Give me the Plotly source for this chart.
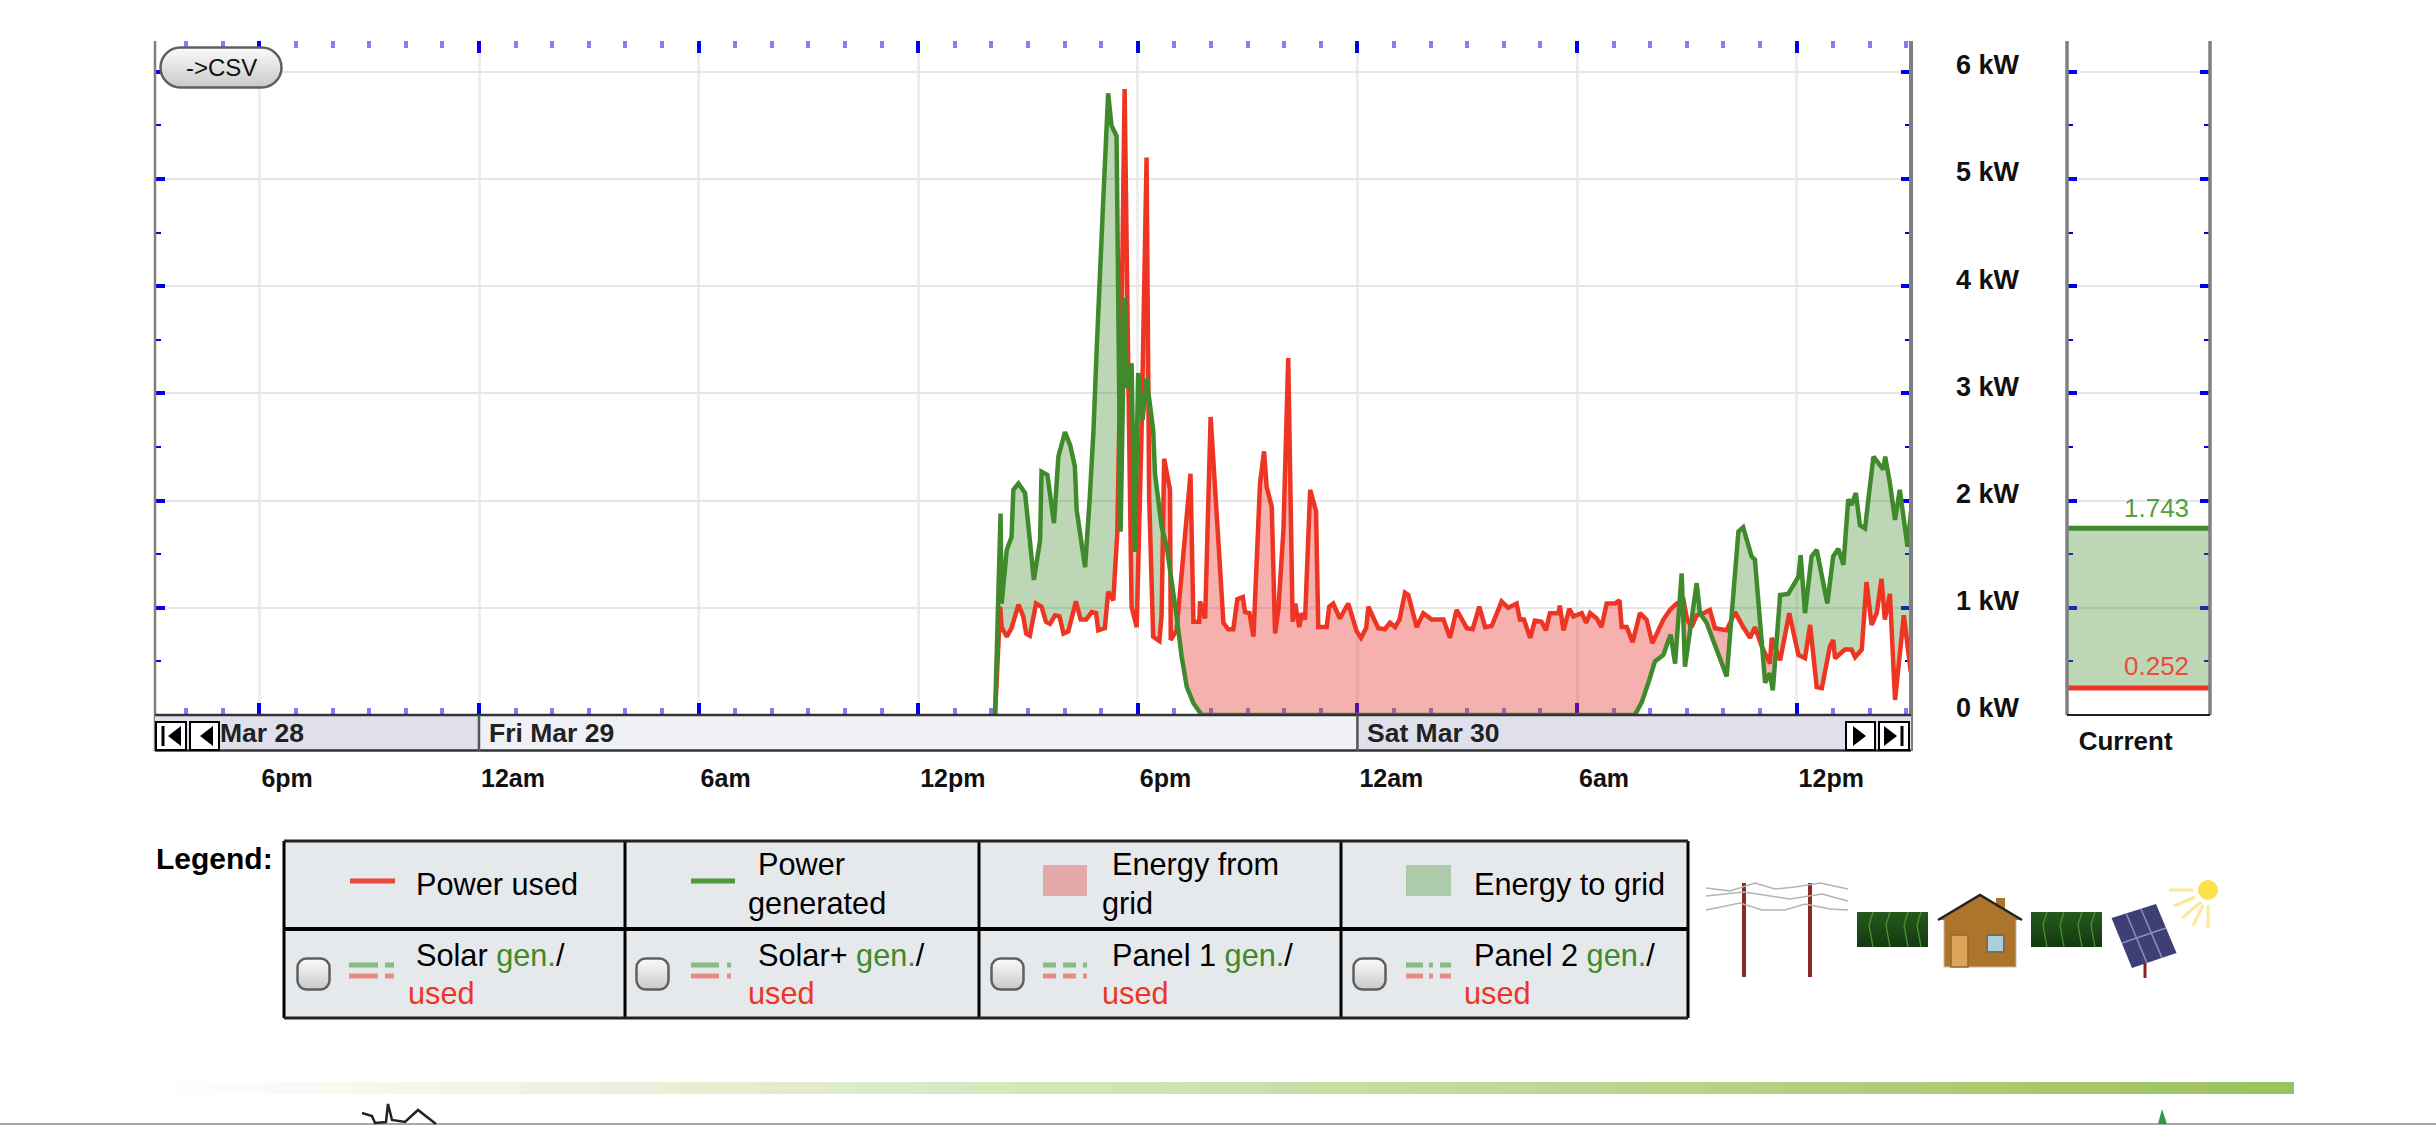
import base64
import plotly.graph_objects as go
import numpy as np

W, H = 2436, 1125

# ---- data (hours since 12am Fri Mar 29, kW) ----
used_hours = [14.10,14.24,14.28,14.42,14.55,14.74,14.87,14.95,15.05,15.22,15.37,15.49,15.60,15.74,15.86,15.97,16.10,16.31,16.44,16.59,16.74,16.86,16.92,17.10,17.19,17.33,17.44,17.58,17.64,17.74,17.83,17.97,18.10,18.24,18.31,18.42,18.59,18.65,18.72,18.88,18.90,19.06,19.44,19.52,19.68,19.70,19.84,19.99,20.34,20.47,20.61,20.72,20.87,20.93,21.05,21.16,21.34,21.45,21.52,21.66,21.75,21.84,21.98,22.11,22.23,22.30,22.41,22.48,22.57,22.71,22.87,22.93,23.16,23.23,23.34,23.52,23.75,23.98,24.10,24.24,24.30,24.57,24.75,24.89,25.03,25.15,25.30,25.39,25.62,25.80,26.03,26.35,26.53,26.71,26.99,27.15,27.33,27.49,27.67,27.94,28.12,28.35,28.44,28.55,28.72,28.85,29.03,29.15,29.26,29.49,29.53,29.63,29.79,29.90,30.13,30.25,30.36,30.54,30.67,30.81,31.04,31.16,31.22,31.36,31.52,31.72,31.90,32.06,32.22,32.36,32.54,32.72,32.91,33.01,33.13,33.27,33.45,33.63,33.77,34.09,34.32,34.54,34.73,34.86,35.05,35.27,35.32,35.55,35.80,36.05,36.23,36.37,36.55,36.69,36.91,37.00,37.05,37.32,37.50,37.60,37.78,37.91,38.05,38.19,38.32,38.41,38.55,38.69,38.93,39.12]
used_kw = [0,1.01,0.82,0.73,0.81,1.03,0.92,0.76,0.74,1.04,1.01,0.87,0.85,0.93,0.92,0.76,0.78,1.06,0.89,0.89,0.96,0.95,0.79,0.81,1.15,1.07,1.7,4.3,5.84,3.2,1.01,0.82,2.6,5.2,2.04,0.73,0.69,0.93,2.39,2.10,0.70,0.79,2.25,0.87,0.87,1.06,0.90,2.78,0.86,0.80,0.80,1.08,1.10,0.96,0.95,0.73,2.16,2.46,2.13,1.94,0.76,0.98,1.73,3.33,0.87,1.04,0.82,0.95,0.89,2.10,1.90,0.82,0.82,1.01,1.04,0.90,1.04,0.78,0.72,0.81,1.01,0.81,0.80,0.86,0.82,0.89,1.14,1.12,0.82,0.95,0.89,0.89,0.72,0.98,0.81,0.80,1.01,0.82,0.83,1.06,1.00,1.04,0.89,0.89,0.72,0.88,0.87,0.79,0.95,0.95,1.02,0.79,0.99,0.92,0.95,0.86,0.95,0.90,0.82,1.04,1.04,1.07,0.82,0.82,0.68,0.95,0.89,0.67,0.79,0.89,0.98,1.04,1.07,0.89,0.82,0.93,0.95,0.98,0.81,0.79,0.96,0.82,0.72,0.82,0.64,0.48,0.72,0.51,0.95,0.56,0.53,0.84,0.26,0.25,0.64,0.70,0.53,0.61,0.61,0.54,0.61,1.24,0.84,0.95,1.27,0.89,1.13,0.14,0.93,0.40]

gen_hours = [14.10,14.25,14.28,14.42,14.55,14.60,14.74,14.92,15.16,15.33,15.37,15.53,15.71,15.83,16.01,16.15,16.28,16.33,16.56,16.69,16.79,16.88,17.04,17.19,17.28,17.42,17.53,17.64,17.70,17.83,17.92,18.01,18.13,18.24,18.42,18.47,18.65,18.79,19.06,19.20,19.34,19.52,19.75,31.58,31.77,31.95,32.13,32.36,32.50,32.56,32.68,32.86,32.95,33.27,33.36,33.54,34.09,34.41,34.54,34.77,34.86,35.14,35.27,35.35,35.55,35.77,36.05,36.11,36.23,36.41,36.55,36.84,37.00,37.14,37.28,37.41,37.50,37.62,37.73,37.87,37.96,38.10,38.37,38.42,38.55,38.69,38.82,39.03,39.12]
gen_kw = [0,1.88,1.04,1.54,1.66,2.10,2.16,2.07,1.26,1.63,2.27,2.24,1.79,2.41,2.64,2.52,2.32,1.91,1.38,2.04,2.66,3.44,4.68,5.80,5.50,5.40,1.71,3.89,3.05,3.28,1.52,3.19,2.75,3.14,2.66,2.25,1.76,1.57,0.92,0.54,0.26,0.11,0,0,0.12,0.30,0.50,0.56,0.70,0.75,0.48,1.32,0.45,1.23,0.95,0.86,0.36,1.71,1.75,1.48,1.45,0.30,0.39,0.23,1.12,1.13,1.29,1.49,0.95,1.48,1.54,1.04,1.48,1.55,1.40,2.01,1.96,2.07,1.77,1.74,2.01,2.41,2.29,2.41,2.16,1.82,2.10,1.57,1.88]

current_used = 0.252
current_gen = 1.743

x_major_hours = [-6, 0, 6, 12, 18, 24, 30, 36]
x_major_labels = ["6pm", "12am", "6am", "12pm", "6pm", "12am", "6am", "12pm"]
y_ticks = [0, 1, 2, 3, 4, 5, 6]
y_labels = ["0 kW", "1 kW", "2 kW", "3 kW", "4 kW", "5 kW", "6 kW"]
y_minor = [0.5, 1.5, 2.5, 3.5, 4.5, 5.5]
x_minor = [h for h in range(-8, 40) if h % 6 != 0]
day_names = ["Mar 28", "Fri Mar 29", "Sat Mar 30"]

RED = "#ee3524"
GREEN = "#3f8a2a"
FONT = "Liberation Sans"

# ---- layout helpers (page pixels to paper) ----
def px(v): return v / W
def py(v): return 1 - v / H

PLOT_L, PLOT_R, PLOT_T, PLOT_B = 155, 1911, 41, 715
CUR_L, CUR_R = 2067, 2210
PX_PER_HOUR, PX_PER_KW = 36.6, 107.2
x_range = [(PLOT_L - 479) / PX_PER_HOUR, (PLOT_R - 479) / PX_PER_HOUR]
y_range = [0, (PLOT_B - PLOT_T) / PX_PER_KW]

fig = go.Figure()

# energy shading between the two power curves
t = np.arange(used_hours[0], used_hours[-1] + 1e-6, 0.01)
u = np.interp(t, used_hours, used_kw)
g = np.interp(t, gen_hours, gen_kw)
none = dict(width=0, color="rgba(0,0,0,0)")
fig.add_trace(go.Scatter(x=t, y=u, mode="lines", line=none, hoverinfo="skip", showlegend=False))
fig.add_trace(go.Scatter(x=t, y=np.maximum(u, g), mode="lines", line=none, fill="tonexty",
                         fillcolor="rgba(62,138,41,0.34)", hoverinfo="skip", showlegend=False))
fig.add_trace(go.Scatter(x=t, y=g, mode="lines", line=none, hoverinfo="skip", showlegend=False))
fig.add_trace(go.Scatter(x=t, y=np.maximum(u, g), mode="lines", line=none, fill="tonexty",
                         fillcolor="rgba(230,40,35,0.37)", hoverinfo="skip", showlegend=False))
fig.add_trace(go.Scatter(x=used_hours, y=used_kw, mode="lines", line=dict(color=RED, width=4.5, simplify=False),
                         name="Power used", showlegend=False))
fig.add_trace(go.Scatter(x=gen_hours + [39.13], y=gen_kw + [gen_kw[-1]], mode="lines",
                         line=dict(color=GREEN, width=4.5, simplify=False),
                         name="Power generated", showlegend=False))

# current panel
fig.add_trace(go.Scatter(x=[0, 1], y=[current_used, current_used], mode="lines", xaxis="x2", yaxis="y2",
                         line=dict(color=RED, width=5), showlegend=False))
fig.add_trace(go.Scatter(x=[0, 1], y=[current_gen, current_gen], mode="lines", xaxis="x2", yaxis="y2",
                         fill="tonexty", fillcolor="rgba(62,138,41,0.34)",
                         line=dict(color=GREEN, width=5), showlegend=False))

BLUE = "#0000ee"
BLUE_SOFT = "rgba(0,0,240,0.5)"
x_font = dict(family=FONT, size=25, color="#111111", weight="bold")
y_font = dict(family=FONT, size=27, color="#111111", weight="bold")
cur_font = dict(family=FONT, size=26, color="#111111", weight="bold")
xaxis = dict(domain=[px(PLOT_L), px(PLOT_R)], range=x_range, anchor="y", layer="below traces",
             tickmode="array", tickvals=x_major_hours, ticktext=x_major_labels,
             ticks="inside", ticklen=12, tickwidth=4, tickcolor=BLUE, mirror="ticks",
             showline=False, zeroline=False, showgrid=True, gridcolor="#eeeeee", gridwidth=3,
             ticklabelposition="outside right", ticklabelstandoff=46, tickfont=x_font,
             minor=dict(tickmode="array", tickvals=x_minor, ticks="inside", ticklen=7,
                        tickwidth=4, tickcolor=BLUE_SOFT, showgrid=False))
yaxis = dict(domain=[py(PLOT_B), py(PLOT_T)], range=y_range, anchor="x", side="right", layer="below traces",
             tickmode="array", tickvals=y_ticks, ticktext=y_labels,
             ticks="inside", ticklen=10, tickwidth=4, tickcolor=BLUE, mirror="ticks",
             showline=False, zeroline=False, showgrid=True, gridcolor="#e6e6e6", gridwidth=2,
             ticklabelstandoff=44, ticklabelshift=-7, tickfont=y_font,
             minor=dict(tickmode="array", tickvals=y_minor, ticks="inside", ticklen=6,
                        tickwidth=2, tickcolor=BLUE, showgrid=False))
xaxis2 = dict(domain=[px(CUR_L), px(CUR_R)], range=[0, 1], anchor="y2", showgrid=False, zeroline=False,
              showline=False, ticks="", tickmode="array", tickvals=[0.41], ticktext=["Current"],
              ticklabelstandoff=8, tickfont=cur_font)
yaxis2 = dict(domain=[py(PLOT_B), py(PLOT_T)], range=y_range, anchor="x2", layer="below traces",
              tickmode="array", tickvals=y_ticks, ticktext=[""] * 7,
              ticks="inside", ticklen=10, tickwidth=4, tickcolor=BLUE, mirror="ticks",
              showline=False, zeroline=False, showgrid=True, gridcolor="#e6e6e6", gridwidth=2,
              minor=dict(tickmode="array", tickvals=y_minor, ticks="inside", ticklen=6,
                         tickwidth=2, tickcolor=BLUE, showgrid=False))

shapes, annotations, images = [], [], []

def line(x0, y0, x1, y1, color, width, layer="above"):
    shapes.append(dict(type="line", xref="paper", yref="paper", x0=px(x0), y0=py(y0), x1=px(x1), y1=py(y1),
                       line=dict(color=color, width=width), layer=layer))

def rect(x0, y0, x1, y1, fill, color=None, width=0, layer="above"):
    shapes.append(dict(type="rect", xref="paper", yref="paper", x0=px(x0), y0=py(y0), x1=px(x1), y1=py(y1),
                       fillcolor=fill, line=dict(color=color or "rgba(0,0,0,0)", width=width), layer=layer))

def poly(points, fill=None, color=None, width=0, close=True, layer="above"):
    d = "M " + " L ".join(f"{px(a):.6f},{py(b):.6f}" for a, b in points) + (" Z" if close else "")
    shapes.append(dict(type="path", xref="paper", yref="paper", path=d,
                       fillcolor=fill or "rgba(0,0,0,0)",
                       line=dict(color=color or "rgba(0,0,0,0)", width=width), layer=layer))

def text(x, y, s, size=30.7, color="#000000", anchor="left", bold=False):
    annotations.append(dict(xref="paper", yref="paper", x=px(x), y=py(y), text=s, showarrow=False,
                            xanchor=anchor, yanchor="middle", borderpad=0,
                            font=dict(family=FONT, size=size, color=color, weight="bold" if bold else "normal")))

def svg_image(svg, x0, y0, x1, y1):
    src = "data:image/svg+xml;base64," + base64.b64encode(svg.encode()).decode()
    images.append(dict(source=src, xref="paper", yref="paper", x=px(x0), y=py(y0),
                       sizex=(x1 - x0) / W, sizey=(y1 - y0) / H, sizing="stretch",
                       xanchor="left", yanchor="top", layer="above"))

def button(x0, y0, x1, y1, r):
    w, h = x1 - x0, y1 - y0
    svg = (f'<svg xmlns="http://www.w3.org/2000/svg" width="{w}" height="{h}" viewBox="0 0 {w} {h}">'
           '<defs><linearGradient id="g" x1="0" y1="0" x2="0" y2="1"><stop offset="0" stop-color="#fbfbfb"/>'
           '<stop offset="1" stop-color="#c9c9c9"/></linearGradient></defs>'
           f'<rect x="1.5" y="1.5" width="{w-3}" height="{h-3}" rx="{r}" ry="{r}" fill="url(#g)" '
           'stroke="#5f5f5f" stroke-width="2.5"/></svg>')
    svg_image(svg, x0, y0, x1, y1)

# axis frames
line(PLOT_L, PLOT_T, PLOT_L, 751, "#7f7f7f", 2.5)
line(PLOT_R, PLOT_T, PLOT_R, 751, "#7f7f7f", 4)
line(CUR_L, PLOT_T, CUR_L, PLOT_B, "#808080", 3.5)
line(CUR_R, PLOT_T, CUR_R, PLOT_B, "#808080", 3.5)
line(CUR_L, PLOT_B, CUR_R, PLOT_B, "#222222", 2)

# date strip
DAY0 = 479
DAY1 = 479 + 24 * PX_PER_HOUR
rect(PLOT_L, PLOT_B, DAY0, 751, "#e0e0ec")
rect(DAY0, PLOT_B, DAY1, 751, "#f0f1f6")
rect(DAY1, PLOT_B, PLOT_R, 751, "#e0e0ec")
line(PLOT_L, PLOT_B, PLOT_R, PLOT_B, "#333333", 2.5)
line(PLOT_L, 750.5, PLOT_R, 750.5, "#333333", 2.5)
line(DAY0, PLOT_B, DAY0, 751, "#555555", 2.5)
line(DAY1, PLOT_B, DAY1, 751, "#555555", 2.5)
text(219, 733, day_names[0], 26.5, "#222222", bold=True)
text(488, 733, day_names[1], 26.5, "#222222", bold=True)
text(1366, 733, day_names[2], 26.5, "#222222", bold=True)

# navigation buttons
for x0, x1 in [(156, 186), (190, 219), (1846, 1875), (1879, 1909)]:
    rect(x0, 722, x1, 750, "#ffffff", "#000000", 2)
poly([(181, 726), (168, 736), (181, 746)], "#000000")
line(163, 726, 163, 746, "#000000", 3)
poly([(213, 726), (200, 736), (213, 746)], "#000000")
poly([(1853, 726), (1866, 736), (1853, 746)], "#000000")
poly([(1884, 726), (1897, 736), (1884, 746)], "#000000")
line(1902, 726, 1902, 746, "#000000", 3)

# current labels
annotations.append(dict(xref="x2", yref="y2", x=0.86, y=current_gen, text="1.743", showarrow=False,
                        xanchor="right", yanchor="bottom", yshift=4, borderpad=0,
                        font=dict(family=FONT, size=26, color="#53a043")))
annotations.append(dict(xref="x2", yref="y2", x=0.86, y=current_used, text="0.252", showarrow=False,
                        xanchor="right", yanchor="bottom", yshift=6, borderpad=0,
                        font=dict(family=FONT, size=26, color="#ee4a3a")))

# ->CSV button
button(159, 46, 283, 89, 20)
text(221, 68, "-&gt;CSV", 24, "#111111", anchor="center")

# legend table
text(155, 858, "Legend:", 30, bold=True)
LEG_X = [284, 625, 979, 1341, 1688]
LEG_Y = [841, 929, 1018]
rect(LEG_X[0], LEG_Y[0], LEG_X[-1], LEG_Y[-1], "#e6e9ec", layer="below")
for v in LEG_X:
    line(v, LEG_Y[0], v, LEG_Y[-1], "#000000", 3)
line(LEG_X[0], LEG_Y[0], LEG_X[-1], LEG_Y[0], "#222222", 3)
line(LEG_X[0], LEG_Y[1], LEG_X[-1], LEG_Y[1], "#000000", 4)
line(LEG_X[0], LEG_Y[2], LEG_X[-1], LEG_Y[2], "#222222", 3)

line(350, 881, 395, 881, "#e8483e", 5)
text(415, 884, "Power used")
line(691, 881, 735, 881, "#4f9a3f", 5)
text(757, 864, "Power")
text(747, 903, "generated")
rect(1043, 865, 1087, 896, "#e5a8a8")
text(1111, 864, "Energy from")
text(1101, 903, "grid")
rect(1406, 865, 1451, 896, "#adcbab")
text(1473, 884, "Energy to grid")

gen_span = '<span style="color:#3f8a2a">gen.</span>/'
LG, LR = "#88bb80", "#ea8a86"
def key(segs):
    for a, b in segs:
        line(a, 965, b, 965, LG, 5)
        line(a, 976, b, 976, LR, 5)
key([(349, 378), (385, 394)])
key([(691, 719), (727, 731)])
key([(1043, 1056), (1063, 1076), (1083, 1087)])
key([(1406, 1423), (1429, 1433), (1440, 1451)])
for x0 in (296, 635, 990, 1352):
    button(x0, 957, x0 + 35, 991, 9)
for lx, ux, name in [(415, 407, "Solar"), (757, 747, "Solar+"), (1111, 1101, "Panel 1"), (1473, 1463, "Panel 2")]:
    text(lx, 955, f"{name} {gen_span}")
    text(ux, 993, "used", color=RED)

# illustration: power poles
for v in (1744, 1810):
    line(v, 883, v, 977, "#8c2b24", 4)
WIRE = "#b4b4b4"
for pts in ([(1706, 888), (1730, 891), (1755, 883), (1775, 889), (1795, 887), (1820, 883), (1848, 889)],
            [(1706, 896), (1744, 892), (1790, 899), (1822, 894), (1848, 901)],
            [(1706, 910), (1740, 903), (1762, 910), (1785, 910), (1805, 904), (1830, 909), (1848, 910)]):
    poly(pts, color=WIRE, width=1.5, close=False)

# illustration: wires between grid, house and panel
for x0 in (1857, 2031):
    w = 71
    svg = (f'<svg xmlns="http://www.w3.org/2000/svg" width="{w}" height="35" viewBox="0 0 {w} 35">'
           '<defs><linearGradient id="g" x1="0" y1="0" x2="0" y2="1"><stop offset="0" stop-color="#265a1c"/>'
           '<stop offset="1" stop-color="#143810"/></linearGradient></defs>'
           f'<rect width="{w}" height="35" fill="url(#g)"/>'
           + "".join(f'<polyline points="{a+4},0 {a},13 {a+4},35" fill="none" stroke="#4a9a35" stroke-width="1.2"/>'
                     for a in (12, 29, 47, 60))
           + '</svg>')
    svg_image(svg, x0, 912, x0 + w, 947)

# illustration: house
rect(1944, 918, 2016, 967, "#ad742c", "#c8b9a0", 1)
rect(1996, 898, 2005, 912, "#ad742c")
poly([(1938, 920), (1980, 895), (2022, 920)], "#ad742c", "#222222", 2.5, close=False)
rect(1951, 935, 1968, 967, "#dda35a", "#96672c", 1.5)
rect(1987, 935, 2004, 952, "#aacde0", "#8a6a3a", 2)

# illustration: solar panel and sun
line(2145, 960, 2145, 978, "#8b2020", 3)
poly([(2111.5, 918), (2156, 904), (2176.5, 953), (2132, 968)], "#3f3f78")
for (a, b) in [((2126, 913), (2147, 963)), ((2141, 909), (2162, 958)), ((2122, 943), (2166, 928))]:
    line(a[0], a[1], b[0], b[1], "#8f8fb5", 1.5)
shapes.append(dict(type="circle", xref="paper", yref="paper", x0=px(2198), x1=px(2218), y0=py(900), y1=py(880),
                   fillcolor="#fbdf4b", line=dict(width=0)))
for a, b, c, d in [(2169, 890, 2193, 890), (2174, 906, 2195, 897), (2182, 918, 2201, 902),
                   (2193, 926, 2203, 905), (2208, 905, 2208, 928)]:
    line(a, b, c, d, "#fbe89a", 3)

# footer rule and page remnants
svg_image('<svg xmlns="http://www.w3.org/2000/svg" width="2144" height="12" viewBox="0 0 2144 12" preserveAspectRatio="none">'
          '<defs><linearGradient id="g"><stop offset="0" stop-color="#ffffff"/><stop offset="1" stop-color="#9bc25a"/>'
          '</linearGradient></defs><rect width="2144" height="12" fill="url(#g)"/></svg>', 150, 1082, 2294, 1094)
line(0, 1124, W, 1124, "#a8a8a8", 2)
poly([(362, 1113), (372, 1116), (375, 1123), (386, 1122), (388, 1104), (392, 1120), (405, 1122), (418, 1110), (436, 1124)],
     color="#222222", width=2.5, close=False)
poly([(2158, 1124), (2162, 1109), (2167, 1124)], "#2f9a4a")

fig.update_layout(width=W, height=H, margin=dict(l=0, r=0, t=0, b=0, pad=0, autoexpand=False),
                  paper_bgcolor="#ffffff", plot_bgcolor="#ffffff", showlegend=False, hovermode=False,
                  font=dict(family=FONT),
                  xaxis=xaxis, yaxis=yaxis, xaxis2=xaxis2, yaxis2=yaxis2,
                  shapes=shapes, annotations=annotations, images=images)

fig.write_html("out.html", config=dict(displayModeBar=False),
               post_script="document.body.style.margin='0';document.documentElement.style.overflow='hidden';")
